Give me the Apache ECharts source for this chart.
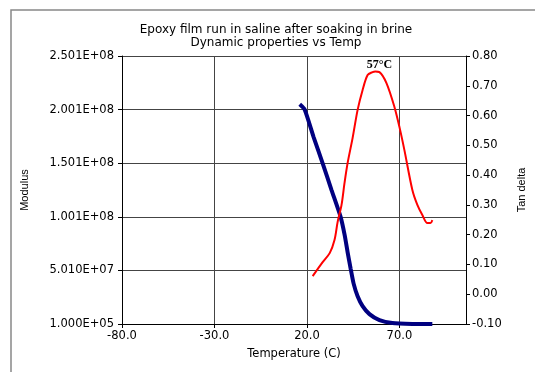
<!DOCTYPE html>
<html>
<head>
<meta charset="utf-8">
<script src="https://cdn.jsdelivr.net/npm/echarts@6/dist/echarts.min.js"></script>
<style>
  html, body { margin: 0; padding: 0; background: #fff; }
  #chart { width: 535px; height: 372px; }
</style>
</head>
<body>
<div id="chart"></div>
<script>
// modulus curve (temperature C, modulus)
var modTemp = [16.1, 18.8, 23.6, 28.5, 33.3, 38.2, 40.4, 42.0, 43.6, 45.2, 47.4, 50.1, 53.8, 59.2, 66.2, 77.0, 87.8];
var modVal = [2.05e8, 2.00e8, 1.745e8, 1.50e8, 1.25e8, 1.00e8, 0.83e8, 0.67e8, 0.52e8, 0.38e8, 0.26e8, 0.168e8, 0.093e8, 0.037e8, 0.010e8, 0.002e8, 0.001e8];

// tan delta curve
var tanTemp = [23.1, 28.5, 32.3, 34.9, 36.6, 38.7, 40.3, 42.0, 44.7, 47.4, 50.1, 52.8, 55.5, 57.0, 59.2, 63.0, 67.3, 70.0, 72.7, 77.0, 79.7, 82.4, 85.1, 86.8, 87.8];
var tanVal = [0.061, 0.108, 0.138, 0.182, 0.243, 0.30, 0.373, 0.441, 0.525, 0.619, 0.686, 0.736, 0.746, 0.748, 0.746, 0.709, 0.629, 0.562, 0.484, 0.35, 0.30, 0.266, 0.239, 0.239, 0.249];

var peakTemp = 57.0;
var peakVal = 0.748;

function pairs(xs, ys) {
  return xs.map(function (x, i) { return [x, ys[i]]; });
}

function sci(v) {
  var s = v.toExponential(3).toUpperCase();
  return s.replace(/E([+-])(\d+)$/, function (m, sign, d) {
    return 'E' + sign + (d.length < 2 ? '0' + d : d);
  });
}

var chart = echarts.init(document.getElementById('chart'));
var font = 'DejaVu Sans, Liberation Sans, sans-serif';
var narrow = 'Liberation Sans Narrow, Liberation Sans, sans-serif';

var option = {
  animation: false,
  textStyle: { fontFamily: font },
  title: {
    text: 'Epoxy film run in saline after soaking in brine\nDynamic properties vs Temp',
    left: 271,
    textAlign: 'center',
    top: 18,
    textStyle: { fontSize: 12, fontWeight: 'normal', color: '#000', lineHeight: 13, fontFamily: font }
  },
  graphic: [{
    type: 'rect',
    shape: { x: 11, y: 10, width: 700, height: 500 },
    style: { fill: 'none', stroke: '#888', lineWidth: 1.5 }
  }],
  grid: { left: 122, right: 69, top: 56, bottom: 48 },
  xAxis: {
    type: 'value',
    min: -80,
    max: 106,
    interval: 50,
    name: 'Temperature (C)',
    nameLocation: 'middle',
    nameGap: 24,
    nameTextStyle: { fontSize: 11.5, color: '#000', fontFamily: font },
    axisLine: { onZero: false, lineStyle: { color: '#000' } },
    axisTick: { lineStyle: { color: '#000' }, length: 4 },
    axisLabel: { fontSize: 11.5, color: '#000', margin: 6, showMaxLabel: false, fontFamily: font,
      formatter: function (v) { return v.toFixed(1); } },
    splitLine: { show: true, lineStyle: { color: '#444' } }
  },
  yAxis: [{
    type: 'value',
    min: 1e5,
    max: 2.501e8,
    interval: 5e7,
    name: 'Modulus',
    nameLocation: 'middle',
    nameGap: 92,
    nameRotate: 90,
    nameTextStyle: { fontSize: 11, color: '#000', fontFamily: narrow },
    axisLine: { show: true, onZero: false, lineStyle: { color: '#000' } },
    axisTick: { show: true, lineStyle: { color: '#000' }, length: 4 },
    axisLabel: { fontSize: 11.5, color: '#000', margin: 8, fontFamily: font, formatter: sci },
    splitLine: { show: true, lineStyle: { color: '#444' } }
  }, {
    type: 'value',
    min: -0.1,
    max: 0.8,
    interval: 0.1,
    position: 'right',
    name: 'Tan delta',
    nameLocation: 'middle',
    nameGap: 50,
    nameRotate: 90,
    nameTextStyle: { fontSize: 11, color: '#000', fontFamily: narrow },
    axisLine: { show: true, onZero: false, lineStyle: { color: '#000' } },
    axisTick: { show: true, lineStyle: { color: '#000' }, length: 4 },
    axisLabel: { fontSize: 11.5, color: '#000', margin: 6, fontFamily: font,
      formatter: function (v) { return v.toFixed(2); } },
    splitLine: { show: false }
  }],
  series: [{
    name: 'Modulus',
    type: 'line',
    yAxisIndex: 0,
    data: pairs(modTemp, modVal),
    smooth: 0.2,
    showSymbol: false,
    lineStyle: { color: '#000080', width: 4 },
    z: 3
  }, {
    name: 'Tan delta',
    type: 'line',
    yAxisIndex: 1,
    data: pairs(tanTemp, tanVal),
    smooth: 0.3,
    showSymbol: false,
    lineStyle: { color: '#ff0000', width: 2 },
    markPoint: {
      symbol: 'circle',
      symbolSize: 0,
      data: [{ coord: [peakTemp, peakVal] }],
      label: {
        show: true,
        position: 'top',
        distance: 1,
        offset: [4, 0],
        formatter: '57°C',
        fontFamily: 'Liberation Serif, Times New Roman, serif',
        fontWeight: 'bold',
        fontSize: 12,
        color: '#000'
      }
    },
    z: 4
  }]
};

chart.setOption(option);
</script>
</body>
</html>
